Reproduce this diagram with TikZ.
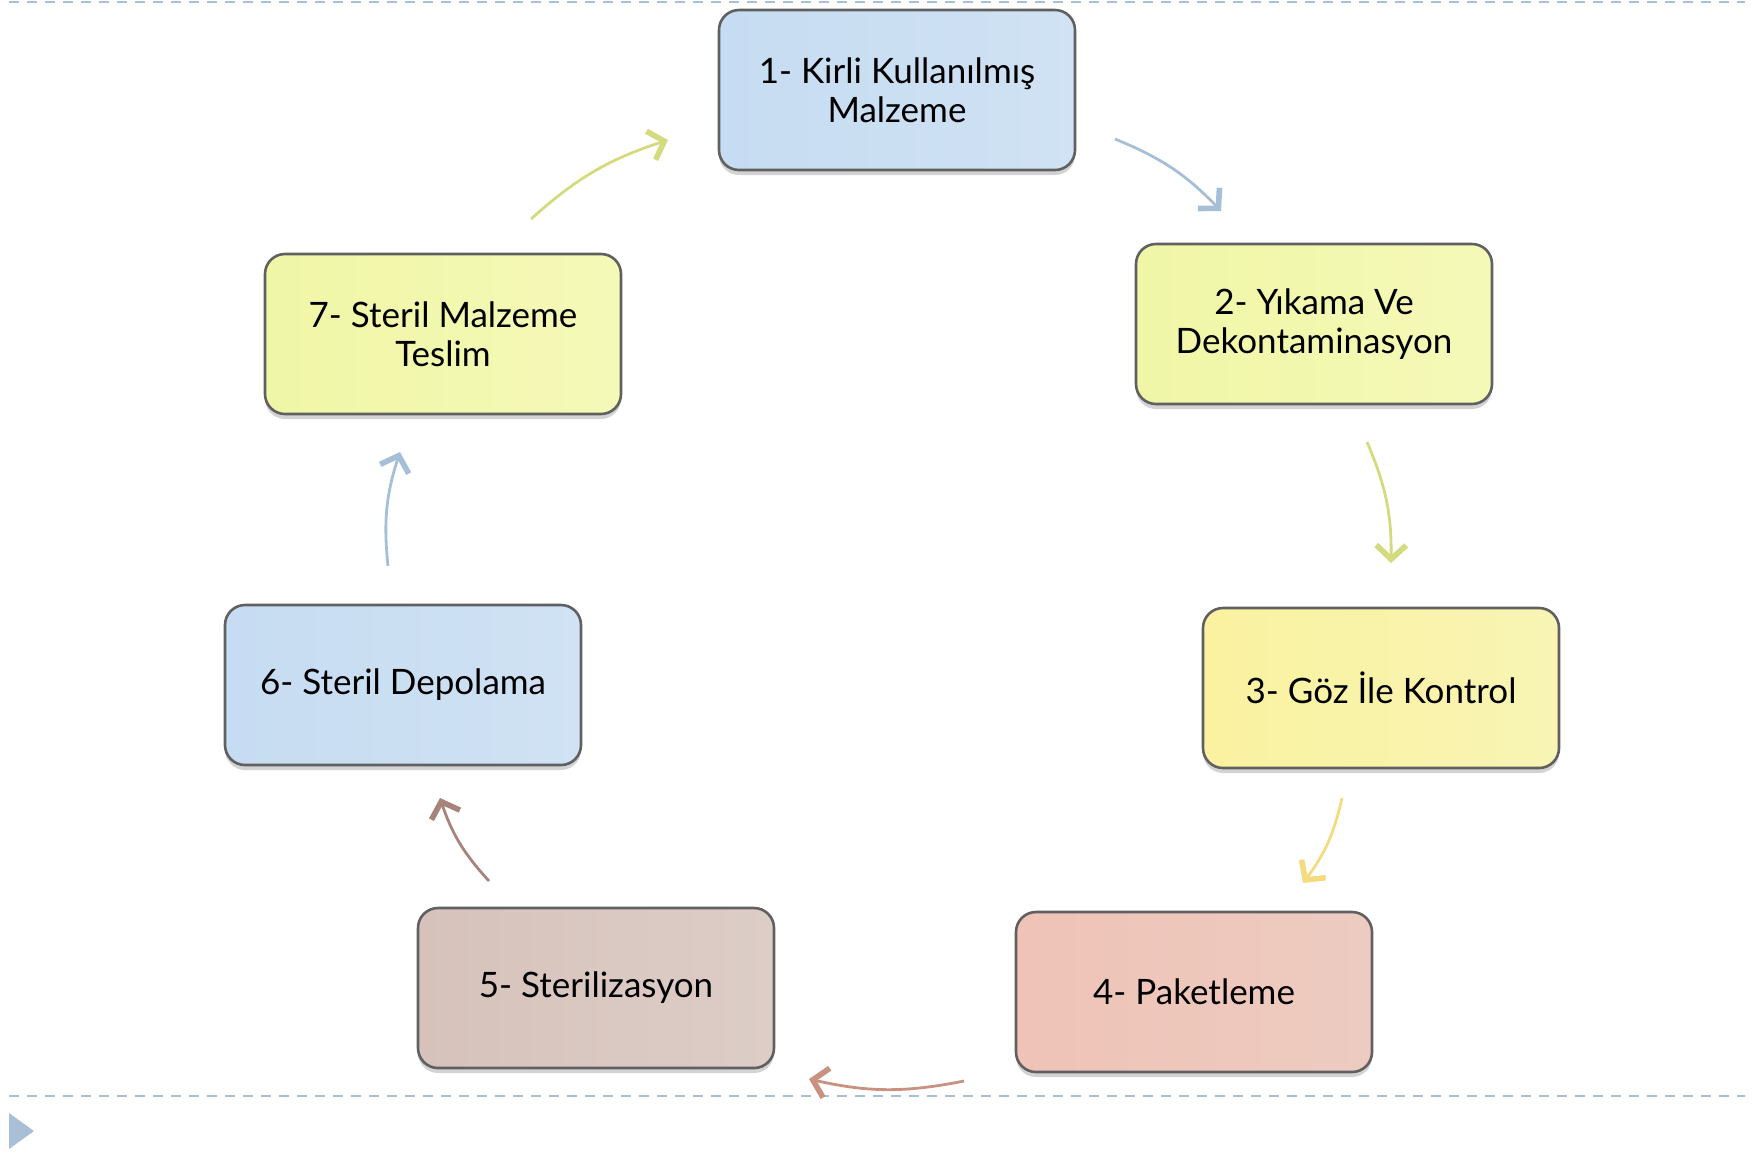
\documentclass[tikz,border=0pt]{standalone}
\usepackage{fontspec}
\setmainfont{Lato}
\usetikzlibrary{arrows.meta}
\usetikzlibrary{shadows}

\definecolor{lineblue}{HTML}{A9BFD5}
\definecolor{arrblue}{HTML}{A7BFD6}
\definecolor{arrgreen}{HTML}{D4DA7E}
\definecolor{arryellow}{HTML}{F4DB80}
\definecolor{arrsalmon}{HTML}{C9917F}
\definecolor{arrtaupe}{HTML}{A6847C}
\definecolor{boxblueA}{HTML}{C6DCF2}
\definecolor{boxblueB}{HTML}{D0E2F3}
\definecolor{boxgreenA}{HTML}{F0F6A6}
\definecolor{boxgreenB}{HTML}{F5F9B8}
\definecolor{boxyellowA}{HTML}{FAF2A0}
\definecolor{boxyellowB}{HTML}{F8F4B4}
\definecolor{boxsalmonA}{HTML}{EFC3B7}
\definecolor{boxsalmonB}{HTML}{EDCBC0}
\definecolor{boxtaupeA}{HTML}{D6C2BB}
\definecolor{boxtaupeB}{HTML}{DDCDC7}

\begin{document}
\begin{tikzpicture} [x=0.5pt, y=-0.5pt,
  stepbox/.style={draw=gray!75!black, line width=1.3pt, rounded corners=10pt,
    minimum width=178pt, minimum height=80pt, align=center,
    font=\fontsize{17.5}{19.5}\selectfont,
    drop shadow={shadow xshift=0pt, shadow yshift=-2.5pt, opacity=.35}},
  flow/.style={line width=1.4pt, ->, >={Straight Barb[length=7pt, width=15pt, line width=2.8pt]}, bend left=12}]
\useasboundingbox (0,0) rectangle (1754,1153);

% dashed rules and the slide marker
\draw[lineblue, line width=1pt, dash pattern=on 5pt off 4pt] (9,2)--(1745,2);
\draw[lineblue, line width=1pt, dash pattern=on 5pt off 4pt] (9,1096)--(1745,1096);
\fill[lineblue] (9,1113)--(34,1131)--(9,1149)--cycle;

% the seven steps
\node[stepbox, left color=boxblueA, right color=boxblueB] (s1) at (897,90) {1- Kirli Kullanılmış\\Malzeme};
\node[stepbox, left color=boxgreenA, right color=boxgreenB] (s2) at (1314,324) {2- Yıkama Ve\\Dekontaminasyon};
\node[stepbox, left color=boxyellowA, right color=boxyellowB] (s3) at (1381,688) {3- Göz İle Kontrol};
\node[stepbox, left color=boxsalmonA, right color=boxsalmonB] (s4) at (1194,992) {4- Paketleme};
\node[stepbox, left color=boxtaupeA, right color=boxtaupeB] (s5) at (596,988) {5- Sterilizasyon};
\node[stepbox, left color=boxblueA, right color=boxblueB] (s6) at (403,685) {6- Steril Depolama};
\node[stepbox, left color=boxgreenA, right color=boxgreenB] (s7) at (443,334) {7- Steril Malzeme\\Teslim};

% arrow ends
\coordinate (a1) at (1115,139);  \coordinate (b1) at (1221,211);
\coordinate (a2) at (1367,442);  \coordinate (b2) at (1391,563);
\coordinate (a3) at (1342,798);  \coordinate (b3) at (1303,883);
\coordinate (a4) at (964,1081);  \coordinate (b4) at (809,1079);
\coordinate (a5) at (489,881);   \coordinate (b5) at (440,798);
\coordinate (a6) at (388,566);   \coordinate (b6) at (400,452);
\coordinate (a7) at (531,219);   \coordinate (b7) at (668,140);

\draw[flow, arrblue] (a1) to (b1);
\draw[flow, arrgreen] (a2) to (b2);
\draw[flow, arryellow] (a3) to (b3);
\draw[flow, arrsalmon] (a4) to (b4);
\draw[flow, arrtaupe] (a5) to (b5);
\draw[flow, arrblue] (a6) to (b6);
\draw[flow, arrgreen] (a7) to (b7);

\end{tikzpicture}
\end{document}
